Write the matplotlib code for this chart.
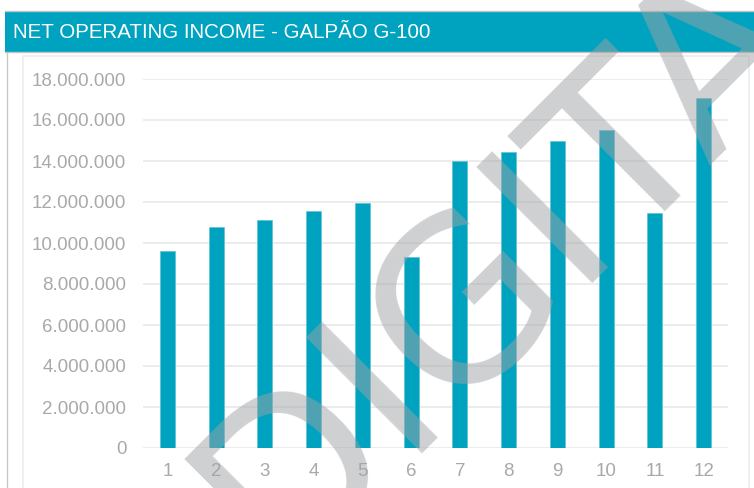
import matplotlib
matplotlib.use("Agg")
import matplotlib.pyplot as plt
from matplotlib.patches import Rectangle
from matplotlib.lines import Line2D
from matplotlib.ticker import FuncFormatter, MultipleLocator
from matplotlib import font_manager

# Monthly net operating income (R$)
months = ["1", "2", "3", "4", "5", "6", "7", "8", "9", "10", "11", "12"]
noi = [9_610_000, 10_760_000, 11_140_000, 11_550_000, 11_930_000, 9_330_000,
       13_980_000, 14_450_000, 14_960_000, 15_500_000, 11_480_000, 17_070_000]

title = "NET OPERATING INCOME - GALPÃO G-100"
watermark = "DIGITAL"

TEAL = "#00a3bf"
TICK = "#a9a9a9"
GRID = "#ebebeb"

W, H = 754, 488
fig = plt.figure(figsize=(W / 100, H / 100), dpi=100)
fig.patch.set_facecolor("white")

names = {f.name for f in font_manager.fontManager.ttflist}
narrow = "Liberation Sans Narrow" if "Liberation Sans Narrow" in names else "Liberation Sans"


def fx(px):
    return px / W


def fy(py):
    return 1 - py / H


# header band
fig.patches.append(Rectangle((fx(5), fy(52)), fx(754 - 5), (52 - 11) / H,
                             transform=fig.transFigure, facecolor=TEAL,
                             edgecolor="none", zorder=1))
for yy in (11, 52):
    fig.lines.append(Line2D([fx(5), 1], [fy(yy), fy(yy)], transform=fig.transFigure,
                            color="#c4c4c4", lw=1.0, zorder=2))
fig.text(fx(13), fy(32), title, color="white", fontsize=14.8, family=narrow,
         ha="left", va="center", zorder=3)

# panel borders
fig.lines.append(Line2D([fx(7), fx(7)], [fy(52), 0], transform=fig.transFigure,
                        color="#c8c8c8", lw=1.0, zorder=1))
fig.patches.append(Rectangle((fx(23), -0.01), fx(749 - 23), fy(56) + 0.01,
                             transform=fig.transFigure, facecolor="none",
                             edgecolor="#ececec", lw=1.2, zorder=1))

# plot area
ax = fig.add_axes([fx(143), fy(448), fx(728 - 143), (448 - 79) / H])
ax.set_facecolor("none")
x = range(len(months))
ax.bar(x, noi, width=0.31, color=TEAL, edgecolor="#5ec3d4", linewidth=0.5, zorder=2)
ax.set_xlim(-0.5, len(months) - 0.5)
ax.set_ylim(0, 18_000_000)
ax.yaxis.set_major_locator(MultipleLocator(2_000_000))
ax.yaxis.set_major_formatter(FuncFormatter(lambda v, _: f"{int(v):,}".replace(",", ".")))
ax.set_xticks(list(x))
ax.set_xticklabels(months)
ax.grid(axis="y", color=GRID, lw=1.3, zorder=0)
ax.set_axisbelow(True)
for s in ax.spines.values():
    s.set_visible(False)
ax.tick_params(axis="both", length=0, colors=TICK, labelsize=13.5)
ax.tick_params(axis="y", pad=12)
ax.tick_params(axis="x", pad=11)
for lab in ax.get_xticklabels() + ax.get_yticklabels():
    lab.set_family("Liberation Sans")

# diagonal watermark
fig.text(fx(546), fy(220), watermark, rotation=45, rotation_mode="anchor",
         ha="center", va="center", fontsize=162, family="DejaVu Sans",
         color="#a0a2a6", alpha=0.5, zorder=10)

fig.savefig("out.png", dpi=100, facecolor="white")
